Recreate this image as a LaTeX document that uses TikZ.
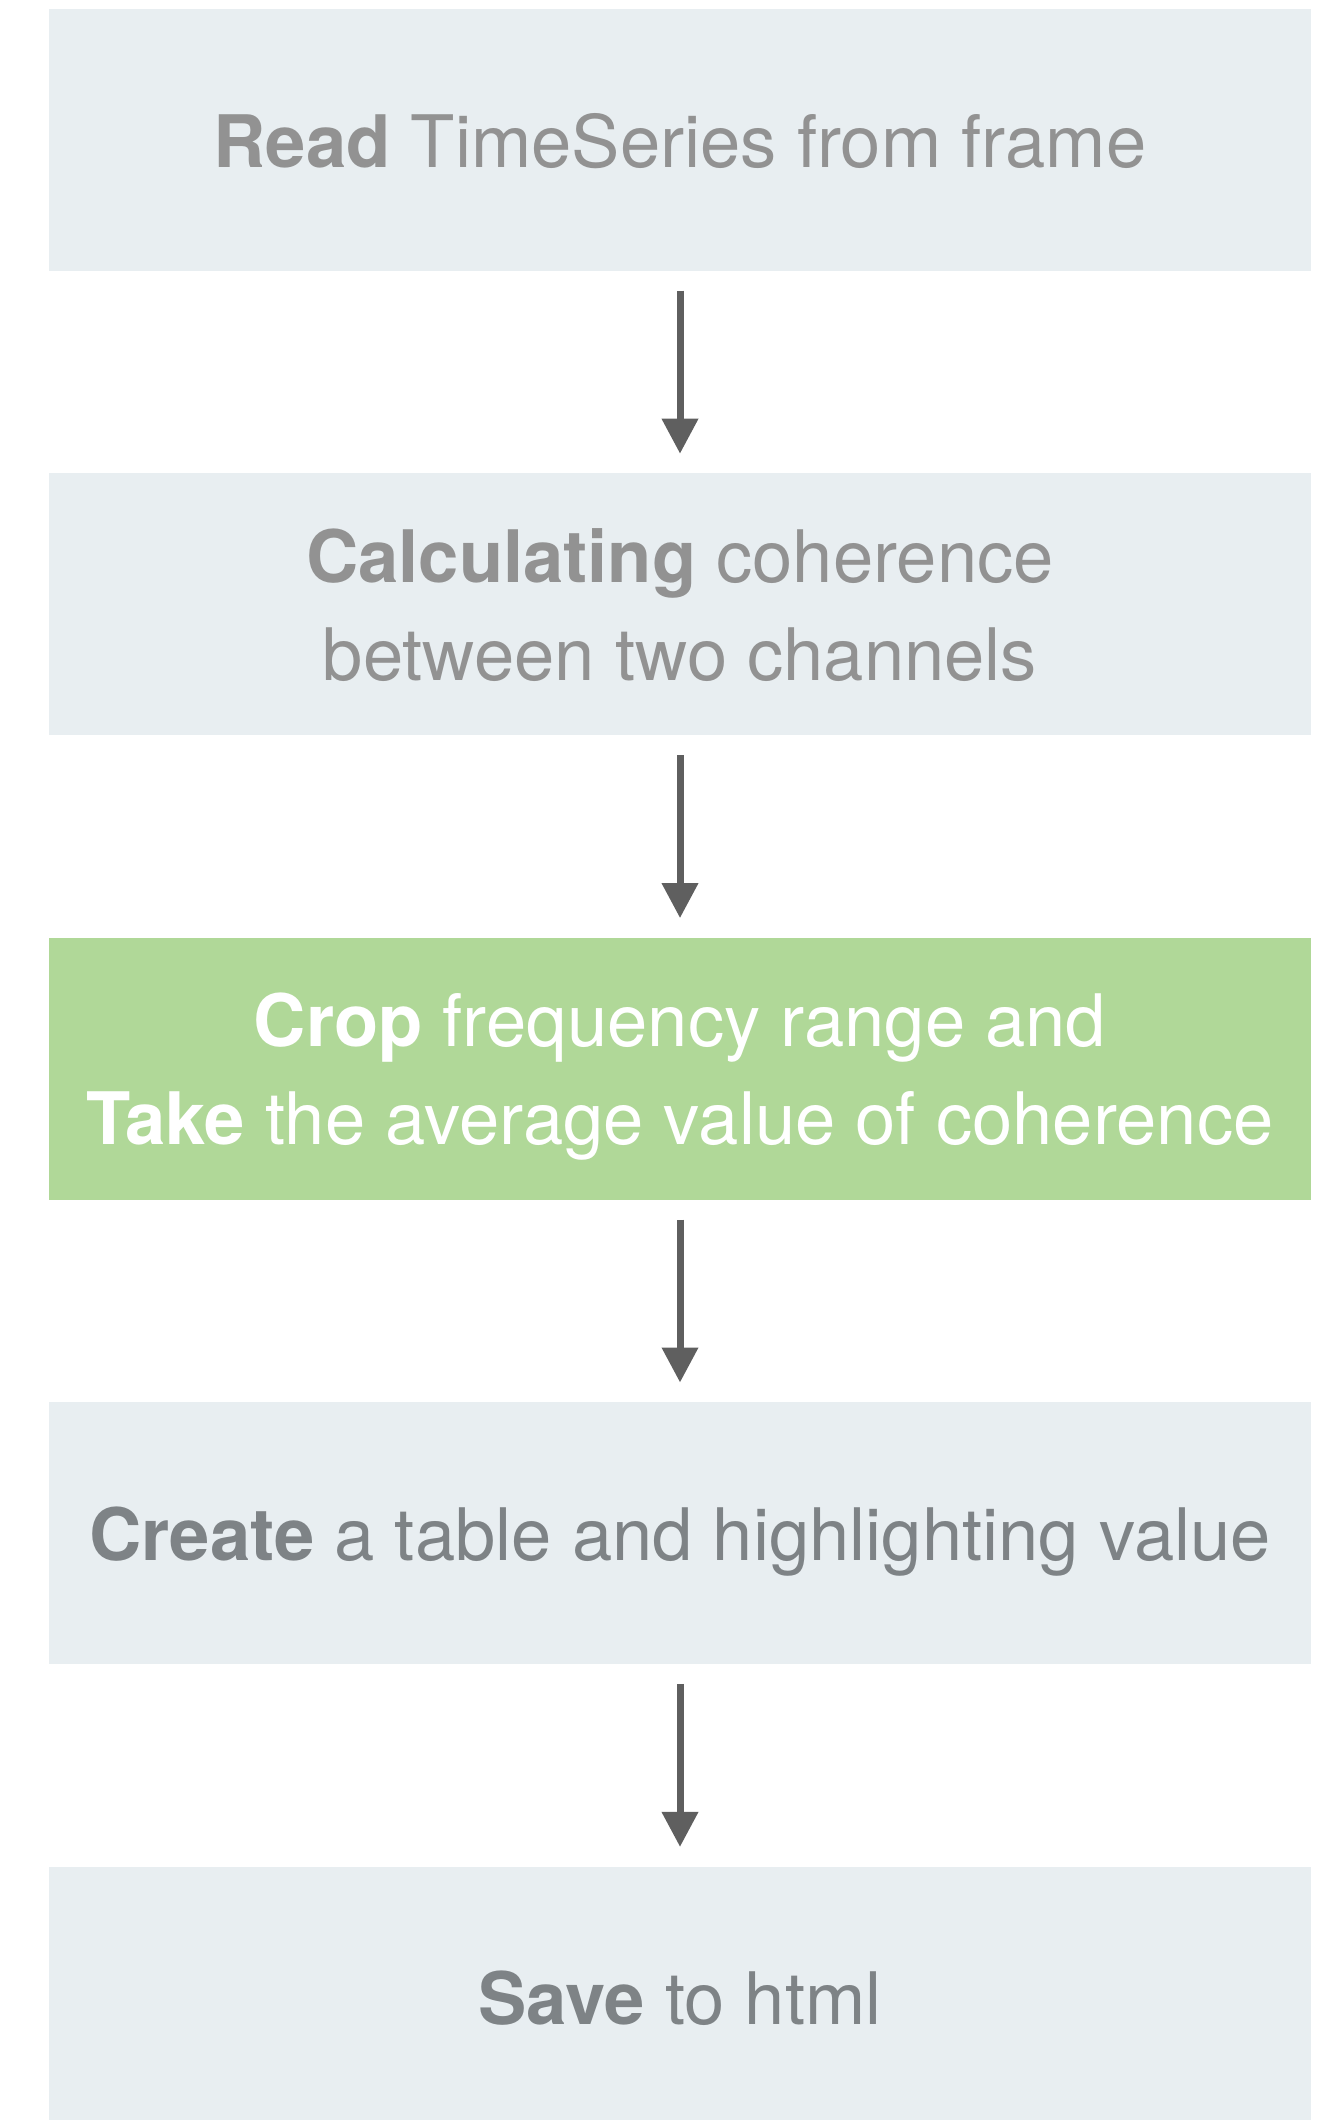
\documentclass[tikz,border=0pt]{standalone}
\usepackage{fontspec}
\setmainfont{TeX Gyre Heros}
\usepackage{tikz}
\usetikzlibrary{positioning,arrows.meta}

\definecolor{boxgray}{HTML}{E8EEF1}
\definecolor{boxgreen}{HTML}{B0D898}
\definecolor{txtlight}{HTML}{929292}
\definecolor{txtdark}{HTML}{7E8386}
\definecolor{arrowgray}{HTML}{5F5F5F}

\tikzset{
  stepbox/.style={fill=boxgray, text=txtdark, minimum width=12.62cm, minimum height=2.62cm,
    inner sep=0pt, align=center, text depth=0pt, font=\fontsize{20.6}{28}\selectfont},
  greenbox/.style={stepbox, fill=boxgreen, text=white},
  flow/.style={-{Triangle[width=0.35cm,length=0.35cm]}, draw=arrowgray, line width=0.07cm,
    shorten >=0.19cm, shorten <=0.19cm}
}

\begin{document}
\begin{tikzpicture}
			\useasboundingbox (0,0) rectangle (13.27,-21.20);
			\clip (0,0) rectangle (13.27,-21.20);
			%\draw[step=0.5cm,gray,very thin] (0,0) grid (13.27,-21.2);
			\node[stepbox, text=txtlight] (read) at (6.80,-1.40) {\textbf{Read} TimeSeries from frame};
			\node[stepbox, text=txtlight, below=2.01cm of read] (calc) {\textbf{Calculating} coherence\\between two channels};
			\node[greenbox, below=2.01cm of calc] (crop) {\textbf{Crop} frequency range and\\\textbf{Take} the average value of coherence};
			\node[stepbox, below=2.01cm of crop] (table) {\textbf{Create} a table and highlighting value};
			\node[stepbox, below=2.01cm of table] (save) {\textbf{Save} to html};
			\draw[flow] (read) -- (calc);
			\draw[flow] (calc) -- (crop);
			\draw[flow] (crop) -- (table);
			\draw[flow] (table) -- (save);
		\end{tikzpicture}
\end{document}
